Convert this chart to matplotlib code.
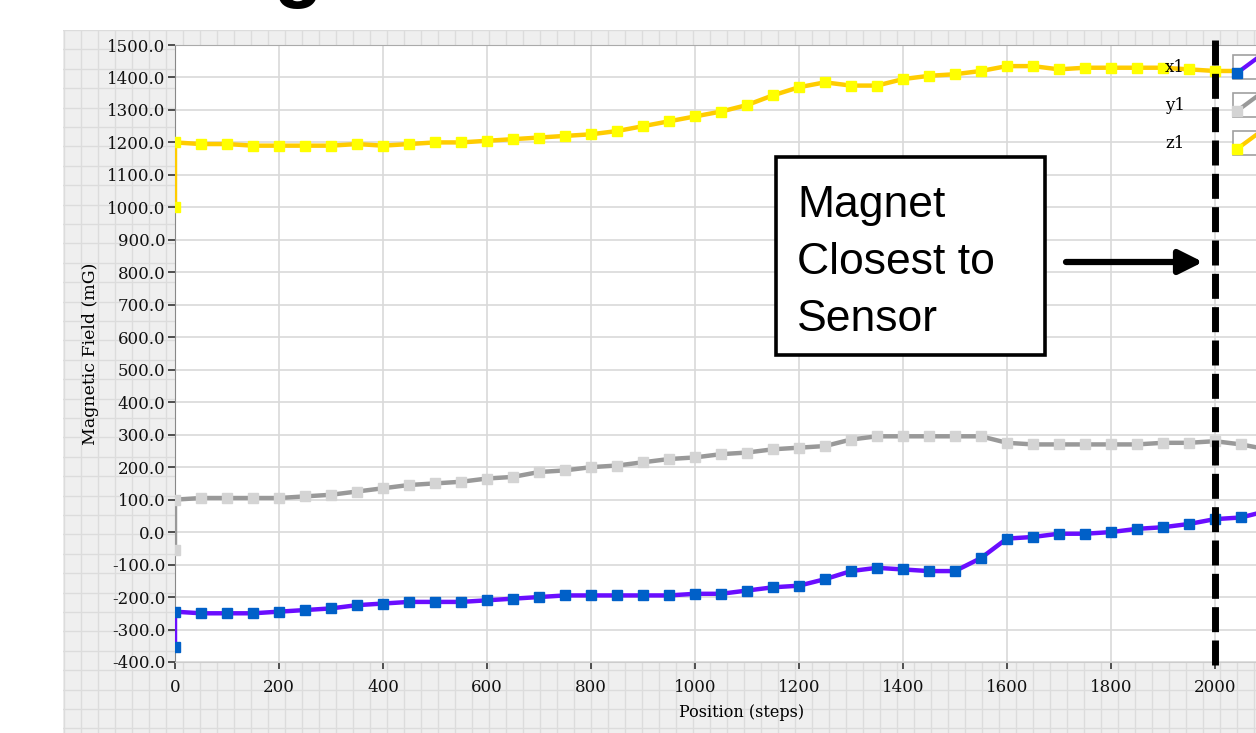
import matplotlib
matplotlib.use('Agg')
import matplotlib.pyplot as plt
from matplotlib.patches import Rectangle
import numpy as np

# sampled positions (steps); the first reading is repeated at 0
steps = [0, 0, 50, 100, 150, 200, 250, 300, 350, 400, 450, 500, 550, 600, 650,
         700, 750, 800, 850, 900, 950, 1000, 1050, 1100, 1150, 1200, 1250, 1300,
         1350, 1400, 1450, 1500, 1550, 1600, 1650, 1700, 1750, 1800, 1850, 1900,
         1950, 2000, 2050, 2100]

x1 = [-355, -245, -250, -250, -250, -245, -240, -235, -225, -220, -215, -215, -215,
      -210, -205, -200, -195, -195, -195, -195, -195, -190, -190, -180, -170, -165,
      -145, -120, -110, -115, -120, -120, -80, -20, -15, -5, -5, 0, 10, 15, 25, 40,
      45, 65]
y1 = [-55, 100, 105, 105, 105, 105, 110, 115, 125, 135, 145, 150, 155, 165, 170,
      185, 190, 200, 205, 215, 225, 230, 240, 245, 255, 260, 265, 285, 295, 295, 295,
      295, 295, 275, 270, 270, 270, 270, 270, 275, 275, 280, 270, 255]
z1 = [1000, 1200, 1195, 1195, 1190, 1190, 1190, 1190, 1195, 1190, 1195, 1200, 1200,
      1205, 1210, 1215, 1220, 1225, 1235, 1250, 1265, 1280, 1295, 1315, 1345, 1370,
      1385, 1375, 1375, 1395, 1405, 1410, 1420, 1435, 1435, 1425, 1430, 1430, 1430,
      1430, 1425, 1420, 1420, 1420]

names = ['x1', 'y1', 'z1']
line_colors = ['#6a0dff', '#999999', '#ffcc00']
marker_colors = ['#0060c8', '#d4d4d4', '#ffff00']

W, H = 1256, 733
fig = plt.figure(figsize=(W / 100, H / 100), dpi=100)


def fx(px):
    return px / W


def fy(py):
    return 1 - py / H


# grey LabVIEW pane behind the graph
bg = fig.add_axes([fx(63), 0, 1 - fx(63), fy(30)])
bg.set_facecolor('#efefef')
bg.set_xlim(0, W - 63)
bg.set_ylim(0, H - 30)
for gx in np.arange(1, W - 63, 17):
    bg.axvline(gx, color='#dcdcdc', lw=1)
for gy in np.arange(H - 30, 0, -19.4):
    bg.axhline(gy, color='#dcdcdc', lw=1)
bg.set_xticks([])
bg.set_yticks([])
for s in bg.spines.values():
    s.set_visible(False)

# title, mostly cut off above the picture
fig.text(fx(162), fy(-8), 'Magnetic Field vs. Position', fontsize=58,
         fontweight='bold', family='Liberation Sans', va='baseline')

ax = fig.add_axes([fx(175), fy(662), 1 - fx(175), fy(45) - fy(662)])
ax.set_facecolor('white')
for vals, lc, mc in zip([x1, y1, z1], line_colors, marker_colors):
    ax.plot(steps, vals, color=lc, lw=3.2, zorder=3)
    ax.plot(steps, vals, ls='none', marker='s', ms=7.5, color=mc, zorder=4)

ax.set_xlim(0, 2079)
ax.set_ylim(-400, 1500)
ax.set_xticks(range(0, 2001, 200))
ax.set_yticks(range(-400, 1501, 100))
ax.set_yticklabels([f'{v:.1f}' for v in range(-400, 1501, 100)])
ax.grid(True, color='#d9d9d9', lw=1.2)
ax.set_axisbelow(True)
ax.tick_params(axis='both', length=5, width=1.2, color='#333333', pad=2,
               labelsize=12, labelcolor='#111111')
for lab in ax.get_xticklabels() + ax.get_yticklabels():
    lab.set_family('DejaVu Serif')
ax.tick_params(axis='x', pad=7)
ax.spines['left'].set_color('#888888')
ax.spines['top'].set_color('#aaaaaa')
ax.spines['bottom'].set_color('#cccccc')
ax.spines['right'].set_visible(False)
ax.set_xlabel('Position (steps)', family='DejaVu Serif', fontsize=11.5, labelpad=6)
ax.xaxis.set_label_coords((742 - 175) / (W - 175), -0.068)
ax.set_ylabel('Magnetic Field (mG)', family='DejaVu Serif', fontsize=12.5, labelpad=6)

# dashed marker for the closest position
ax.axvline(2000, ymin=-0.005, ymax=1.009, color='black', lw=5,
           ls=(0, (3.6, 1.2)), clip_on=False, zorder=6)

# legend drawn in the LabVIEW way: name then a small sample box
leg_y = [68, 106, 144]
for name, lc, mc, ly in zip(names, line_colors, marker_colors, leg_y):
    fig.text(fx(1175), fy(ly), name, family='DejaVu Serif', fontsize=12,
             ha='center', va='center')
    fig.add_artist(Rectangle((fx(1233), fy(ly + 11)), fx(30), 24 / H,
                             transform=fig.transFigure, facecolor='white',
                             edgecolor='#a0a0a0', lw=1.2))
    fig.add_artist(plt.Line2D([fx(1237), fx(1256)], [fy(ly + 5), fy(ly - 9)],
                              transform=fig.transFigure, color=lc, lw=3))
    fig.add_artist(plt.Line2D([fx(1237)], [fy(ly + 5)], transform=fig.transFigure,
                              marker='s', ms=6.5, color=mc, ls='none'))

# annotation box and arrow
fig.add_artist(Rectangle((fx(776), fy(355)), fx(1045) - fx(776), 198 / H,
                         transform=fig.transFigure, facecolor='white',
                         edgecolor='black', lw=2.6, zorder=7))
for txt, base in zip(['Magnet', 'Closest to', 'Sensor'], [217, 274, 331]):
    fig.text(fx(797), fy(base), txt, family='Liberation Sans', fontsize=32,
             va='baseline', zorder=8)
ax.annotate('', xy=(1203, H - 262), xytext=(1066, H - 262),
            xycoords='figure pixels', textcoords='figure pixels',
            arrowprops=dict(arrowstyle='-|>', lw=4.5, color='black',
                            mutation_scale=36, shrinkA=0, shrinkB=0),
            zorder=8)

fig.savefig('out.png', dpi=100)
